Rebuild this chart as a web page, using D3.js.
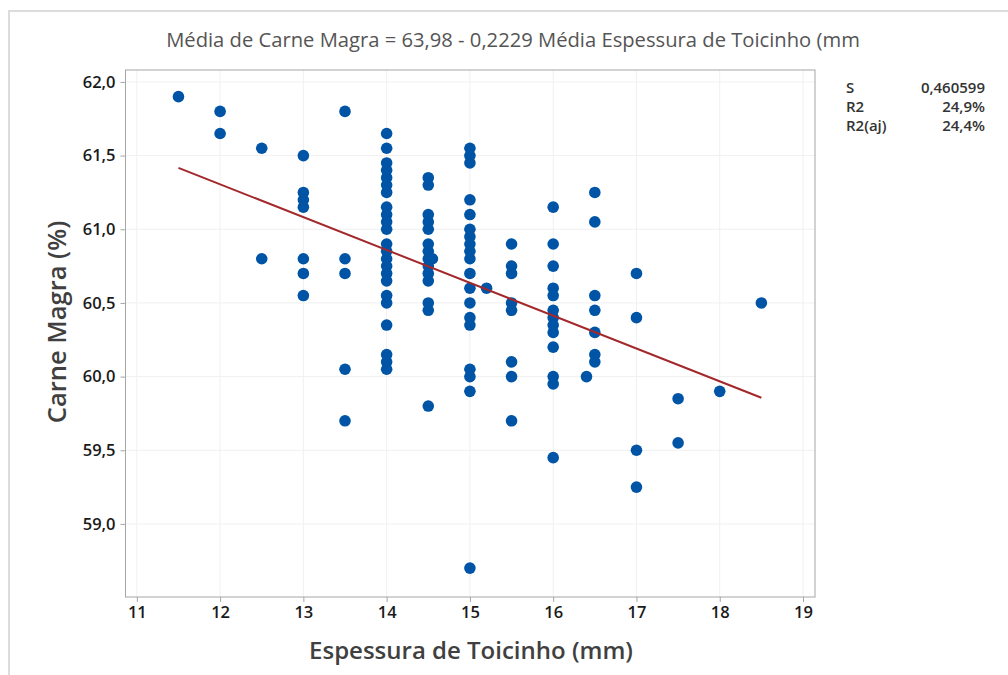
<!DOCTYPE html>
<html><head><meta charset="utf-8">
<script src="https://cdn.jsdelivr.net/npm/d3@7"></script>
<style>
html,body{margin:0;padding:0;background:#fff;}
svg{display:block;font-family:"Open Sans","Noto Sans",sans-serif;}
</style></head>
<body>
<svg id="chart" width="1008" height="675"></svg>
<script>
// ---- data ----
const espessura = [
 11.5,
 12,12,
 12.5,12.5,
 13,13,13,13,13,13,13,
 13.5,13.5,13.5,13.5,13.5,
 14,14,14,14,14,14,14,14,14,14,14,14,14,14,14,14,14,14,14,14,14,14,14,
 14.5,14.5,14.5,14.5,14.5,14.5,14.5,14.5,14.5,14.5,14.5,14.5,14.5,14.5,
 14.55,
 15,15,15,15,15,15,15,15,15,15,15,15,15,15,15,15,15,15,15,
 15.2,
 15.5,15.5,15.5,15.5,15.5,15.5,15.5,15.5,
 16,16,16,16,16,16,16,16,16,16,16,16,16,
 16.4,
 16.5,16.5,16.5,16.5,16.5,16.5,16.5,
 17,17,17,17,
 17.5,17.5,
 18,
 18.5
];
const carneMagra = [
 61.9,
 61.8,61.65,
 61.55,60.8,
 61.5,61.25,61.2,61.15,60.8,60.7,60.55,
 61.8,60.8,60.7,60.05,59.7,
 61.65,61.55,61.45,61.4,61.35,61.3,61.25,61.15,61.1,61.05,61.0,60.9,60.85,60.8,60.75,60.7,60.65,60.55,60.5,60.35,60.15,60.1,60.05,
 61.35,61.3,61.1,61.05,61.0,60.9,60.85,60.8,60.75,60.7,60.65,60.5,60.45,59.8,
 60.8,
 61.55,61.5,61.45,61.2,61.1,61.0,60.95,60.9,60.85,60.8,60.7,60.6,60.5,60.4,60.35,60.05,60.0,59.9,58.7,
 60.6,
 60.9,60.75,60.7,60.5,60.45,60.1,60.0,59.7,
 61.15,60.9,60.75,60.6,60.55,60.45,60.4,60.35,60.3,60.2,60.0,59.95,59.45,
 60.0,
 61.25,61.05,60.55,60.45,60.3,60.15,60.1,
 60.7,60.4,59.5,59.25,
 59.85,59.55,
 59.9,
 60.5
];
const xTicks = [11,12,13,14,15,16,17,18,19];
const yTicks = [59.0,59.5,60.0,60.5,61.0,61.5,62.0];
const intercept = 63.98, slope = -0.2229;
const fitRange = [11.5, 18.5];
const title = "Média de Carne Magra = 63,98 - 0,2229 Média Espessura de Toicinho (mm";
const statLabels = ["S","R2","R2(aj)"];
const statValues = ["0,460599","24,9%","24,4%"];
const xLabel = "Espessura de Toicinho (mm)";
const yLabel = "Carne Magra (%)";

// ---- layout ----
const svg = d3.select("#chart");
const L = 125.5, R = 815, T = 70, B = 597;
const x = d3.scaleLinear().domain([10.864, 19.144]).range([L, R]);
const y = d3.scaleLinear().domain([58.504, 62.081]).range([B, T]);
const fmt = d => d3.format(".1f")(d).replace(".", ",");

// outer panel border
svg.append("path").attr("d","M9,675 V11 H1008").attr("fill","none")
  .attr("stroke","#dcdcdc").attr("stroke-width",2);

// gridlines
const g = svg.append("g");
g.selectAll("line.gx").data(xTicks).join("line")
  .attr("x1",d=>x(d)).attr("x2",d=>x(d)).attr("y1",T).attr("y2",B)
  .attr("stroke","#f0f0f0").attr("stroke-width",1);
g.selectAll("line.gy").data(yTicks).join("line")
  .attr("y1",d=>y(d)).attr("y2",d=>y(d)).attr("x1",L).attr("x2",R)
  .attr("stroke","#f0f0f0").attr("stroke-width",1);

// frame
svg.append("rect").attr("x",L).attr("y",T).attr("width",R-L).attr("height",B-T)
  .attr("fill","none").attr("stroke","#a6a6a6").attr("stroke-width",1);

// axes
const xAxis = svg.append("g").attr("transform",`translate(0,${B})`)
  .call(d3.axisBottom(x).tickValues(xTicks).tickSize(5).tickPadding(4).tickFormat(d3.format("d")));
const yAxis = svg.append("g").attr("transform",`translate(${L},0)`)
  .call(d3.axisLeft(y).tickValues(yTicks).tickSize(5).tickPadding(5).tickFormat(fmt));
[xAxis,yAxis].forEach(a=>{
  a.select(".domain").remove();
  a.selectAll(".tick line").attr("stroke","#a6a6a6");
  a.selectAll(".tick text").attr("fill","#1a1a1a").attr("font-size",16.5).attr("font-weight",600)
    .attr("font-family","'Open Sans','Noto Sans',sans-serif");
});

// points
svg.append("g").selectAll("circle").data(espessura.map((d,i)=>[d,carneMagra[i]])).join("circle")
  .attr("cx",d=>x(d[0])).attr("cy",d=>y(d[1])).attr("r",5.8).attr("fill","#0054a6");

// fit line
svg.append("line")
  .attr("x1",x(fitRange[0])).attr("y1",y(intercept+slope*fitRange[0]))
  .attr("x2",x(fitRange[1])).attr("y2",y(intercept+slope*fitRange[1]))
  .attr("stroke","#a3282c").attr("stroke-width",2);

// title
svg.append("text").attr("x",513).attr("y",47).attr("text-anchor","middle")
  .attr("font-size",20.2).attr("fill","#555").text(title);

// axis labels
svg.append("text").attr("x",471).attr("y",659).attr("text-anchor","middle")
  .attr("font-size",24).attr("font-weight",600).attr("fill","#404040").text(xLabel);
svg.append("text").attr("transform","translate(66,322) rotate(-90)").attr("text-anchor","middle")
  .attr("font-size",25.5).attr("font-weight",600).attr("fill","#404040").text(yLabel);

// stats
const st = svg.append("g");
statLabels.forEach((s,i)=>{
  st.append("text").attr("x",846).attr("y",93+i*19).attr("font-size",15).attr("font-weight",600)
    .attr("fill","#333").text(s);
  st.append("text").attr("x",985).attr("y",93+i*19).attr("text-anchor","end").attr("font-size",15)
    .attr("font-weight",600).attr("fill","#333").text(statValues[i]);
});
</script>
</body></html>
